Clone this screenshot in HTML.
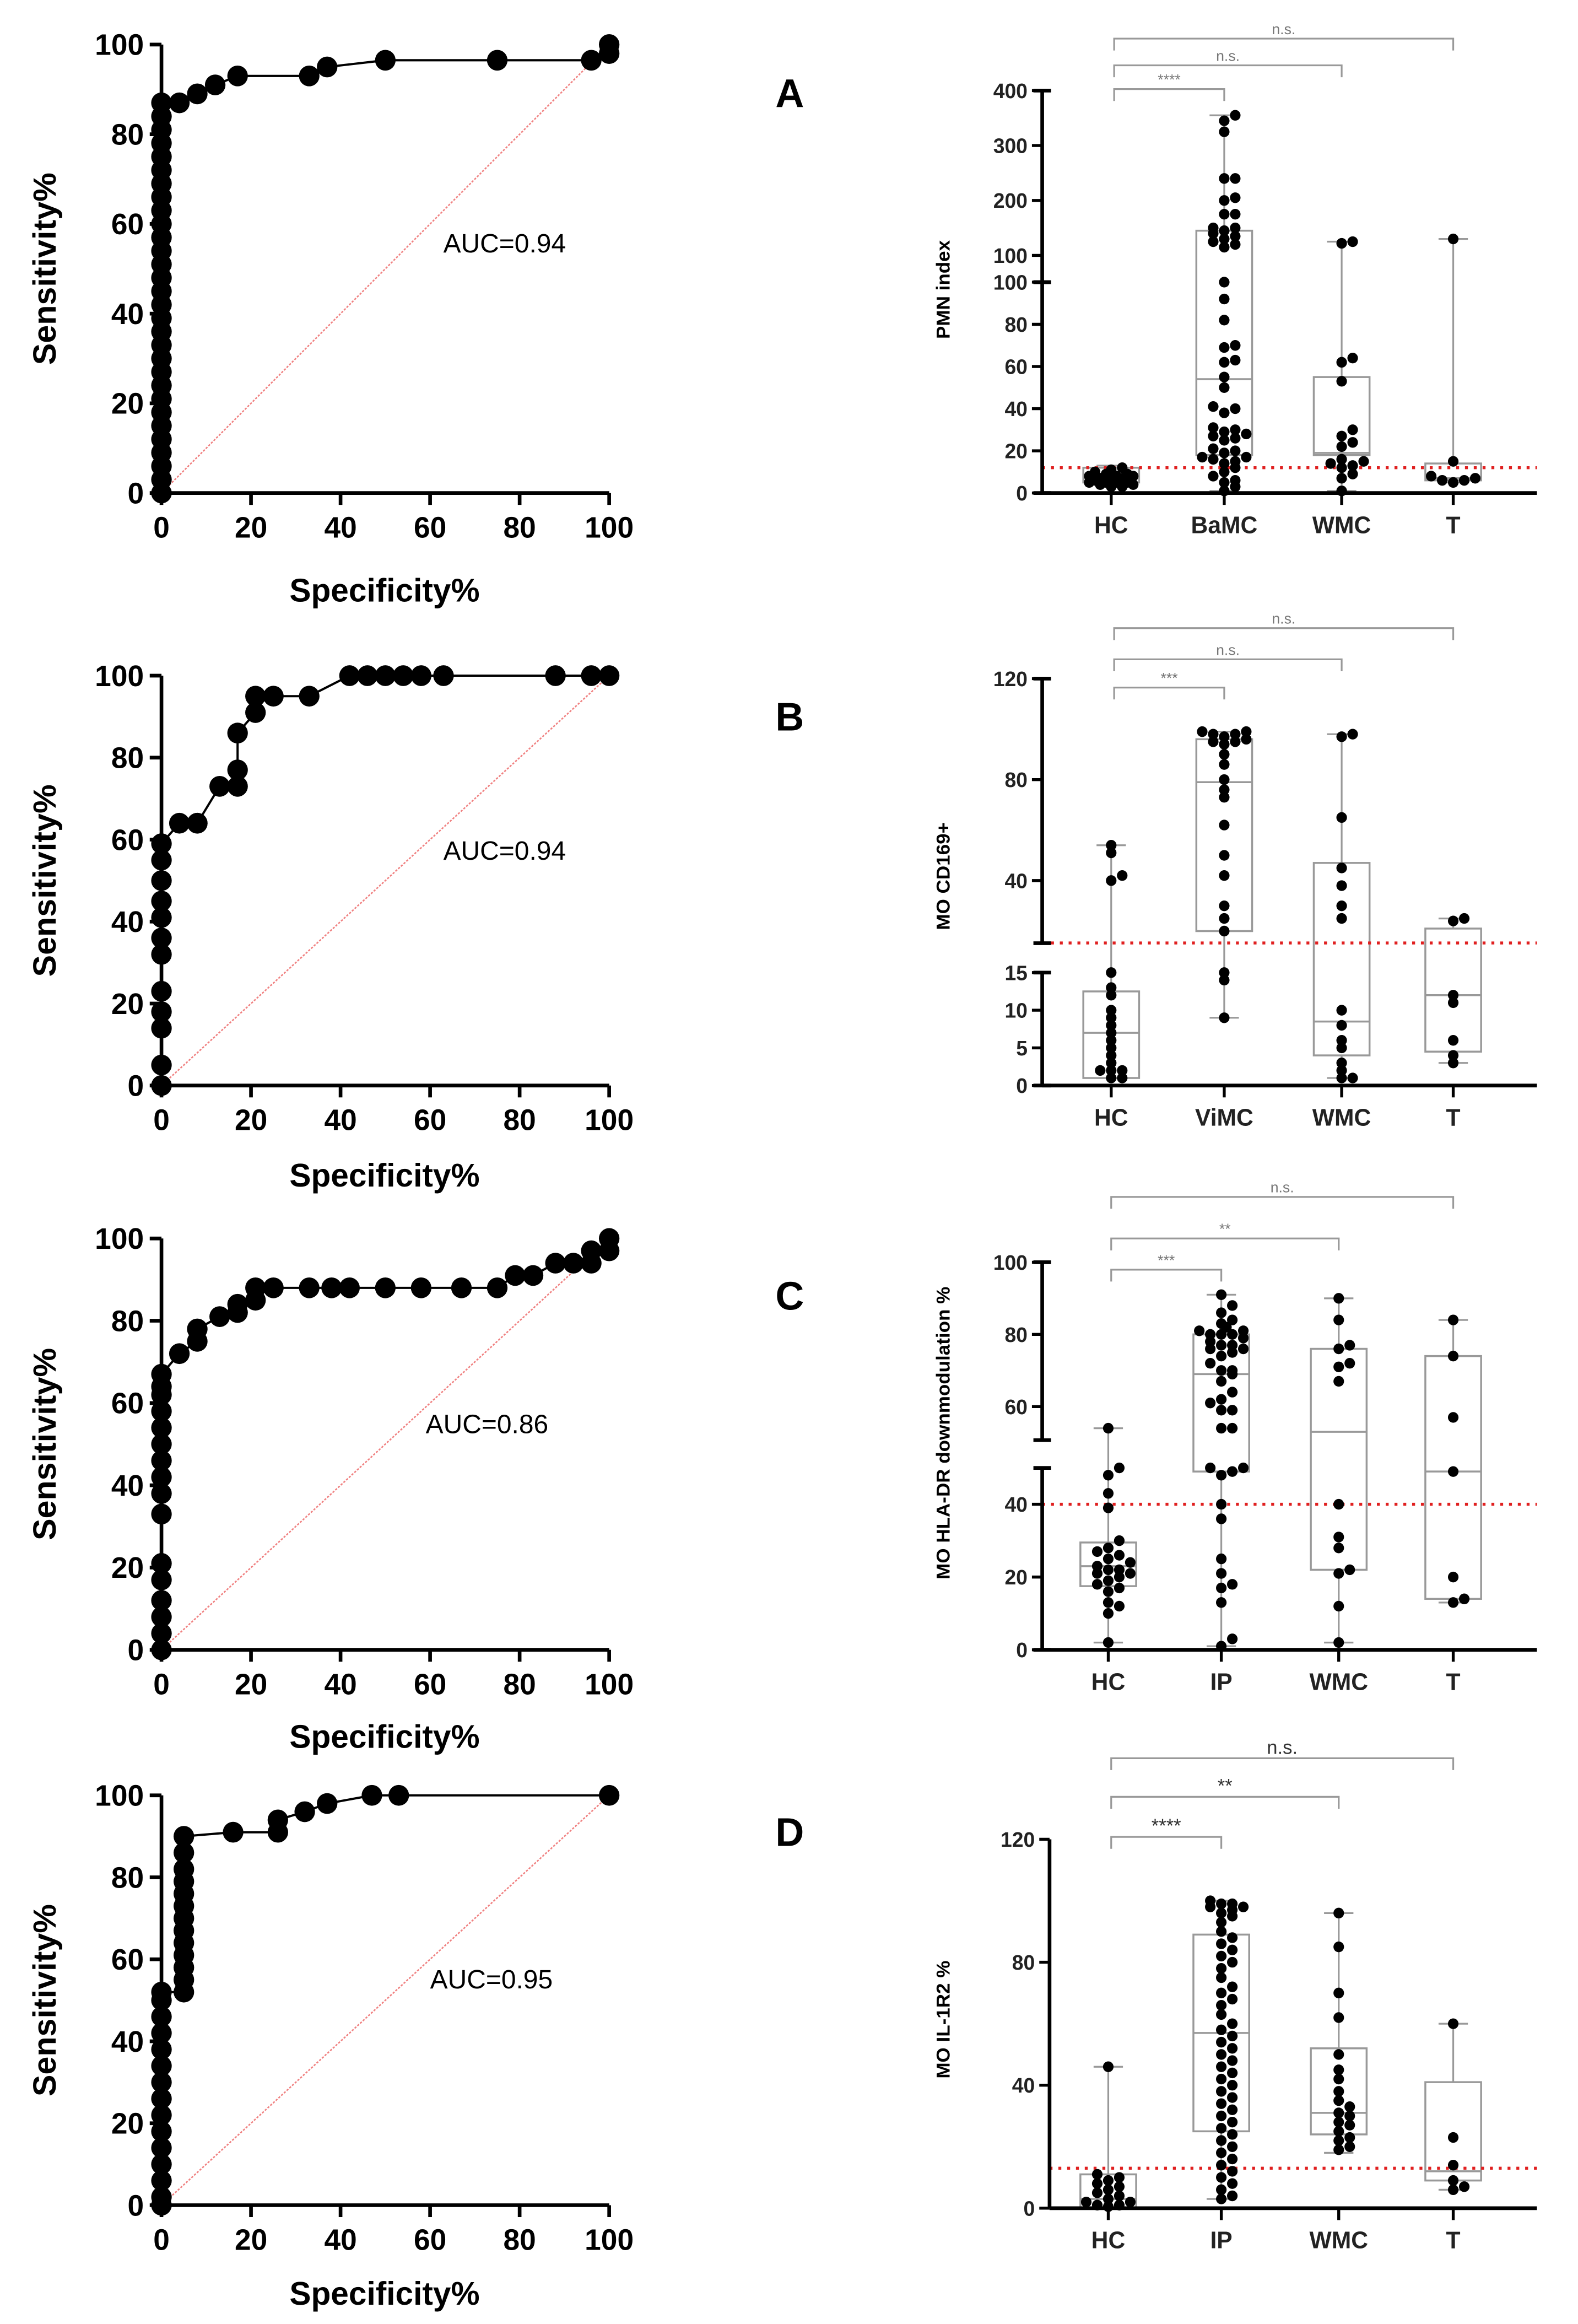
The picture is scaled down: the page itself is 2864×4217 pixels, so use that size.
<!DOCTYPE html>
<html><head><meta charset="utf-8">
<style>
html,body{margin:0;padding:0;background:#fff;}
svg{display:block;}
text{font-family:"Liberation Sans",Arial,sans-serif;}
</style></head>
<body>
<svg id="fig" width="2864" height="4217" viewBox="0 0 1075 1565" preserveAspectRatio="none" xmlns="http://www.w3.org/2000/svg"></svg>
<script>
// ---------- ROC data (specificity %, sensitivity %) ----------
const rocA_spec = [0,0,0,0,0,0,0,0,0,0,0,0,0,0,0,0,0,0,0,0,0,0,0,0,0,0,0,0,0,0,4,8,12,17,33,37,50,75,96,100,100];
const rocA_sens = [0,3,6,9,12,15,18,21,24,27,30,33,36,39,42,45,48,51,54,57,60,63,66,69,72,75,78,81,84,87,87,89,91,93,93,95,96.5,96.5,96.5,98,100];
const rocB_spec = [0,0,0,0,0,0,0,0,0,0,0,0,4,8,8,13,17,17,17,21,21,25,33,42,46,50,54,58,63,88,96,100];
const rocB_sens = [0,5,14,18,23,32,36,41,45,50,55,59,64,64,64,73,73,77,86,91,95,95,95,100,100,100,100,100,100,100,100,100];
const rocC_spec = [0,0,0,0,0,0,0,0,0,0,0,0,0,0,0,0,4,8,8,13,17,17,21,21,25,33,38,42,50,58,67,75,79,83,88,92,96,96,100,100];
const rocC_sens = [0,4,8,12,17,21,33,38,42,46,50,54,58,62,64,67,72,75,78,81,82,84,85,88,88,88,88,88,88,88,88,88,91,91,94,94,94,97,97,100];
const rocD_spec = [0,0,0,0,0,0,0,0,0,0,0,0,0,0,0,5,5,5,5,5,5,5,5,5,5,5,5,5,16,26,26,32,37,47,53,100];
const rocD_sens = [0,2,6,10,14,18,22,26,30,34,38,42,46,50,52,52,55,58,61,64,67,70,73,76,79,82,86,90,91,91,94,96,98,100,100,100];
const rocAUC = ["AUC=0.94","AUC=0.94","AUC=0.86","AUC=0.95"];
const rocTicks = [0,20,40,60,80,100];

// ---------- Box plot data ----------
const catsA = ["HC","BaMC","WMC","T"];
const catsB = ["HC","ViMC","WMC","T"];
const catsC = ["HC","IP","WMC","T"];
const catsD = ["HC","IP","WMC","T"];
const ptsA_HC = [3,4,5,5,6,6,7,7,8,8,9,9,10,11,12,4,6,5,7,8,3,5];
const ptsA_BaMC = [355,345,325,240,240,205,200,175,175,150,150,145,140,135,130,125,120,115,100,92,82,70,69,63,62,55,50,41,40,38,31,30,29,28,27,26,25,21,20,19,17,17,16,15,14,12,10,8,6,5,3,1];
const ptsA_WMC = [125,122,64,62,53,30,27,24,22,16,15,14,13,12,9,7,1];
const ptsA_T = [130,15,8,7,6,6,5];
const boxA = [[3,5,8,12,13],[1,18,54,145,355],[1,18,19,55,125],[5,6,7,14,130]]; // min,q1,median,q3,max
const ptsB_HC = [54,51,42,40,15,13,12,10,9,8,7,6,5,4,3,2,2,1,1,2];
const ptsB_ViMC = [99,99,98,98,97,96,95,95,94,90,86,80,76,73,62,50,42,30,25,20,15,14,9];
const ptsB_WMC = [98,97,65,45,38,30,25,10,8,6,5,3,2,1,1];
const ptsB_T = [25,24,12,11,6,4,3];
const boxB = [[1,1,7,12.5,54],[9,20,79,96,99],[1,4,8.5,47,98],[3,4.5,12,21,25]];
const ptsC_HC = [54,50,48,43,39,30,28,27,26,25,24,23,22,22,21,21,20,19,18,17,16,13,12,10,2];
const ptsC_IP = [91,88,86,84,83,82,81,81,80,80,80,79,78,77,77,76,76,75,74,72,70,70,69,67,64,62,61,59,59,54,54,50,50,49,48,40,36,25,21,18,17,13,3,1];
const ptsC_WMC = [90,84,77,76,72,71,67,40,31,28,22,21,12,2];
const ptsC_T = [84,74,57,49,20,14,13];
const boxC = [[2,17.5,23,29.5,54],[1,49,69,80,91],[2,22,53,76,90],[13,14,49,74,84]];
const ptsD_HC = [46,11,10,9,8,7,6,5,4,3,2,2,1,1,0.5];
const ptsD_IP = [100,99,99,98,98,97,96,95,93,90,88,86,84,82,80,78,75,72,70,68,66,63,60,58,56,54,52,50,48,46,44,42,40,38,36,34,32,30,28,26,24,22,20,18,16,14,12,10,8,6,4,3];
const ptsD_WMC = [96,85,70,62,50,45,42,38,35,33,31,30,28,27,25,23,22,20,19];
const ptsD_T = [60,23,14,9,7,6];
const boxD = [[0,0,3,11,46],[3,25,57,89,100],[18,24,31,52,96],[6,9,12,41,60]];

const NS = "http://www.w3.org/2000/svg";
const svg = document.getElementById("fig");
function mk(tag, attrs, parent){
  const e = document.createElementNS(NS, tag);
  for (const k in attrs) e.setAttribute(k, attrs[k]);
  (parent||svg).appendChild(e);
  return e;
}
function txt(s, attrs, parent){ const t = mk("text", attrs, parent); t.textContent = s; return t; }

// ---------- ROC panels ----------
const rocPanels = [
  {spec:rocA_spec, sens:rocA_sens, y0:332, y100:30, auc:rocAUC[0], ax:302, ay:170, xt:398},
  {spec:rocB_spec, sens:rocB_sens, y0:731, y100:455, auc:rocAUC[1], ax:302, ay:579, xt:792},
  {spec:rocC_spec, sens:rocC_sens, y0:1111, y100:834, auc:rocAUC[2], ax:290, ay:965, xt:1170},
  {spec:rocD_spec, sens:rocD_sens, y0:1485, y100:1209, auc:rocAUC[3], ax:293, ay:1339, xt:1545}
];
rocPanels.forEach((p, pi) => {
  const g = mk("g", {});
  
  
  const X = v => 110 + v * 3.05;
  const Y = v => p.y0 + (p.y100 - p.y0) * v / 100;
  const diag = mk("line", {x1:X(0), y1:Y(0), x2:X(100), y2:Y(100), stroke:"#f08080", "stroke-width":1, "stroke-dasharray":"1.5,1"}, g);
  
  
  const ax = mk("path", {d:`M${X(0)},${Y(100)} V${Y(0)} H${X(100)}`, fill:"none", stroke:"#000", "stroke-width":2.5}, g);
  
  
  rocTicks.forEach(t => {
    mk("line", {x1:X(t), y1:Y(0), x2:X(t), y2:Y(0)+8, stroke:"#000", "stroke-width":2.5}, g);
    mk("line", {x1:X(0)-8, y1:Y(t), x2:X(0), y2:Y(t), stroke:"#000", "stroke-width":2.5}, g);
    const xl = txt(String(t), {x:X(t), y:Y(0)+30, "text-anchor":"middle", "font-size":20, "font-weight":"bold"}, g);
    
    
    const yl = txt(String(t), {x:X(0)-12, y:Y(t)+7, "text-anchor":"end", "font-size":20, "font-weight":"bold"}, g);
    
    
  });
  let d = "";
  p.spec.forEach((s, i) => { d += (i ? "L" : "M") + X(s) + "," + Y(p.sens[i]); });
  const ln = mk("path", {d:d, fill:"none", stroke:"#000", "stroke-width":1.5}, g);
  
  
  p.spec.forEach((s, i) => {
    const c = mk("circle", {cx:X(s), cy:Y(p.sens[i]), r:7, fill:"#000"}, g);
    
    
  });
  const auc = txt(p.auc, {x:p.ax, y:p.ay, "font-size":18}, g);
  
  
  const xt = txt("Specificity%", {x:262, y:p.xt + 7, "text-anchor":"middle", "font-size":22, "font-weight":"bold"}, g);
  
  
  const cy = (p.y0 + p.y100) / 2;
  const yt = txt("Sensitivity%", {x:0, y:0, "text-anchor":"middle", "font-size":22, "font-weight":"bold", transform:`translate(38,${cy}) rotate(-90)`}, g);
  
  
});

// ---------- panel letters ----------
[["A",72],["B",492],["C",882],["D",1243]].forEach(l => {
  const t = txt(l[0], {x:538, y:l[1], "text-anchor":"middle", "font-size":27, "font-weight":"bold", "font-family":"Liberation Serif, serif"});
  
  
});

// ---------- box plot panels ----------
const yA = v => v <= 100 ? 332 - 1.42 * v : 209 - 0.37 * v;
const yB = v => v <= 15 ? 731 - 5.07 * v : 661 - 1.7 * v;
const yC = v => v <= 50 ? 1111 - 2.45 * v : 1093 - 2.43 * v;
const yD = v => 1487 - 2.07 * v;
const boxPanels = [
  {cats:catsA, pts:[ptsA_HC,ptsA_BaMC,ptsA_WMC,ptsA_T], box:boxA, Y:yA, axX:710, base:332, xs:[757,834,914,990], title:"PMN index", tcy:195,
   segs:[[0,100],[100,400]], ticks:[0,20,40,60,80,100,100,200,300,400], red:12,
   brackets:[[0,1,60,"****"],[0,2,44,"n.s."],[0,3,26,"n.s."]], bw:38},
  {cats:catsB, pts:[ptsB_HC,ptsB_ViMC,ptsB_WMC,ptsB_T], box:boxB, Y:yB, axX:710, base:731, xs:[757,834,914,990], title:"MO CD169+", tcy:590,
   segs:[[0,15],[15.2,120]], ticks:[0,5,10,15,40,80,120], red:15.3,
   brackets:[[0,1,463,"***"],[0,2,444,"n.s."],[0,3,423,"n.s."]], bw:38},
  {cats:catsC, pts:[ptsC_HC,ptsC_IP,ptsC_WMC,ptsC_T], box:boxC, Y:yC, axX:710, base:1111, xs:[755,832,912,990], title:"MO HLA-DR downmodulation %", tcy:965,
   segs:[[0,50],[50.7,100]], ticks:[0,20,40,60,80,100], red:40,
   brackets:[[0,1,855,"***"],[0,2,834,"**"],[0,3,806,"n.s."]], bw:38},
  {cats:catsD, pts:[ptsD_HC,ptsD_IP,ptsD_WMC,ptsD_T], box:boxD, Y:yD, axX:715, base:1487, xs:[755,832,912,990], title:"MO IL-1R2 %", tcy:1360,
   segs:[[0,120]], ticks:[0,40,80,120], red:13,
   brackets:[[0,1,1237,"****"],[0,2,1210,"**"],[0,3,1184,"n.s."]], bw:38}
];
boxPanels.forEach((p, pi) => {
  const g = mk("g", {});
  
  
  p.box.forEach((b, ci) => {
    const cx = p.xs[ci], hw = p.bw / 2;
    const w = mk("line", {x1:cx, y1:p.Y(b[0]), x2:cx, y2:p.Y(b[4]), stroke:"#999", "stroke-width":1.2}, g);
    
    
    [b[0], b[4]].forEach(v => mk("line", {x1:cx-10, y1:p.Y(v), x2:cx+10, y2:p.Y(v), stroke:"#999", "stroke-width":1.2}, g));
    const r = mk("rect", {x:cx-hw, y:p.Y(b[3]), width:p.bw, height:p.Y(b[1]) - p.Y(b[3]), fill:"#fff", stroke:"#999", "stroke-width":1.3}, g);
    
    
    const m = mk("line", {x1:cx-hw, y1:p.Y(b[2]), x2:cx+hw, y2:p.Y(b[2]), stroke:"#999", "stroke-width":1.3}, g);
    
    
  });
  const rl = mk("line", {x1:p.axX, y1:p.Y(p.red), x2:1047, y2:p.Y(p.red), stroke:"#e02020", "stroke-width":2, "stroke-dasharray":"2,4"}, g);
  
  
  // points: bin by y relative to group start, cycle offsets within ±15
  const offs = [0, 7.5, -7.5, 15, -15, 3.5, -3.5, 11, -11];
  p.pts.forEach((arr, ci) => {
    const cx = p.xs[ci];
    const sorted = arr.slice().sort((a, b) => a - b);
    let groupY = -999, k = 0;
    sorted.forEach(v => {
      const y = p.Y(v);
      if (Math.abs(y - groupY) < 5) k++; else { k = 0; groupY = y; }
      const off = offs[k % offs.length];
      const c = mk("circle", {cx:cx + off, cy:y, r:3.6, fill:"#000"}, g);
      
      
    });
  });
  p.segs.forEach(s => {
    const a = mk("line", {x1:p.axX, y1:p.Y(s[0]), x2:p.axX, y2:p.Y(s[1]), stroke:"#000", "stroke-width":2.5}, g);
    
    
    if (p.segs.length > 1) {
      mk("line", {x1:p.axX-6, y1:p.Y(s[0]), x2:p.axX+6, y2:p.Y(s[0]), stroke:"#000", "stroke-width":2.5}, g);
      mk("line", {x1:p.axX-6, y1:p.Y(s[1]), x2:p.axX+6, y2:p.Y(s[1]), stroke:"#000", "stroke-width":2.5}, g);
    }
  });
  const xa = mk("line", {x1:p.axX, y1:p.base, x2:1047, y2:p.base, stroke:"#000", "stroke-width":2.5}, g);
  
  
  p.ticks.forEach((t, i) => {
    let y = p.Y(t);
    if (pi === 0 && i === 6) y = p.Y(100.01);
    mk("line", {x1:p.axX-7, y1:y, x2:p.axX, y2:y, stroke:"#000", "stroke-width":2}, g);
    const tl = txt(String(t), {x:p.axX-10, y:y+5, "text-anchor":"end", "font-size":14, "font-weight":"bold", fill:"#222"}, g);
    
    
  });
  p.cats.forEach((c, ci) => {
    mk("line", {x1:p.xs[ci], y1:p.base, x2:p.xs[ci], y2:p.base+8, stroke:"#000", "stroke-width":2}, g);
    const cl = txt(c, {x:p.xs[ci], y:p.base+27, "text-anchor":"middle", "font-size":16, "font-weight":"bold", fill:"#222"}, g);
    
    
  });
  const yt = txt(p.title, {x:0, y:0, "text-anchor":"middle", "font-size":13, "font-weight":"bold", transform:`translate(647,${p.tcy}) rotate(-90)`}, g);
  
  
  p.brackets.forEach(b => {
    const x1 = p.xs[b[0]] + 2, x2 = p.xs[b[1]], y = b[2];
    const br = mk("path", {d:`M${x1},${y+8} V${y} H${x2} V${y+8}`, fill:"none", stroke:"#999", "stroke-width":1.2}, g);
    
    
    const st = txt(b[3], {x:(x1 + x2) / 2, y:y-3, "text-anchor":"middle", "font-size": pi === 3 ? 13 : 10, fill: pi === 3 ? "#333" : "#777"}, g);
    
    
  });
});
</script>
</body></html>
